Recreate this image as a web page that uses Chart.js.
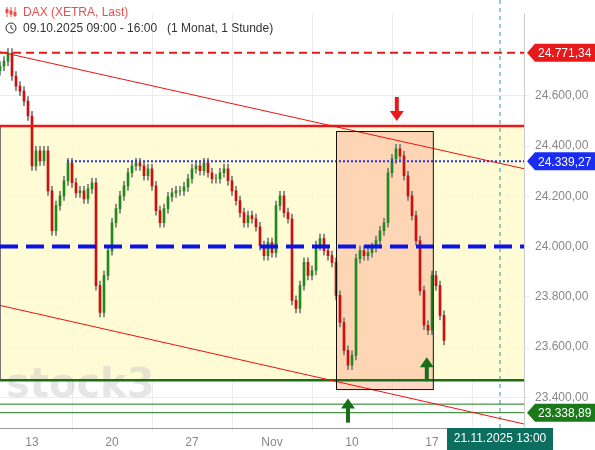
<!DOCTYPE html>
<html>
<head>
<meta charset="utf-8">
<script src="https://cdn.jsdelivr.net/npm/chart.js@4.4.0/dist/chart.umd.min.js"></script>
<style>
  html, body { margin: 0; padding: 0; background: #fff; }
  #wrap { position: relative; width: 595px; height: 450px; }
</style>
</head>
<body>
<div id="wrap"><canvas id="daxChart" width="595" height="450"></canvas></div>
<script>
// 2-hour candles, 4 per trading day, starting 09.10.2025
const closes = [
  24718, 24738, 24770, 24679, 24639, 24619, 24579, 24520, 24321, 24381, 24341, 24381,
  24222, 24063, 24163, 24202, 24262, 24333, 24254, 24214, 24222, 24190, 24230, 24254,
  23845, 23738, 23885, 23984, 24095, 24151, 24202, 24242, 24294, 24321, 24333, 24321,
  24282, 24310, 24242, 24143, 24095, 24151, 24198, 24214, 24222, 24222, 24238, 24270,
  24310, 24321, 24302, 24333, 24294, 24270, 24270, 24294, 24310, 24262, 24222, 24183,
  24135, 24095, 24123, 24111, 24079, 24004, 23964, 24016, 23976, 24163, 24202, 24135,
  24111, 23786, 23754, 23845, 23937, 23885, 23905, 24004, 24032, 23984, 23964, 23937,
  23806, 23698, 23587, 23528, 23567, 23952, 23984, 23964, 23976, 23996, 24024, 24063,
  24095, 24294, 24349, 24389, 24361, 24282, 24202, 24123, 24024, 23825, 23687, 23667,
  23885, 23845, 23726, 23627
];
const firstOpen = 24700;
const wick = 18;

const dateTicks = [8, 28, 48, 68, 88, 108];
const dateLabels = ['13', '20', '27', 'Nov', '10', '17'];
const priceTicks = [23400, 23600, 23800, 24000, 24200, 24400, 24600];

const levelHigh = 24771.34;
const levelDotted = 24339.27;
const levelLast = 23338.89;
const zoneTop = 24480;
const zoneBottom = 23468;
const midLine = 24000;
const lowLine = 23373;
const channelUpper = [[0, 24775], [131, 24310]];
const channelLower = [[0, 23766], [131, 23294]];
const boxRange = { x0: 84, x1: 108.2, top: 24460, bottom: 23433 };
const forecastIdx = 125;

const bodies = [], wicks = [], bodyColors = [];
closes.forEach((c, i) => {
  const o = i === 0 ? firstOpen : closes[i - 1];
  bodies.push({ x: i, y: [o, c] });
  wicks.push({ x: i, y: [Math.min(o, c) - wick, Math.max(o, c) + wick] });
  bodyColors.push(c >= o ? '#1f8a1f' : '#cc1010');
});

const fmt = v => v.toLocaleString('de-DE', { minimumFractionDigits: 2, maximumFractionDigits: 2 });

const overlay = {
  id: 'overlay',
  beforeDatasetsDraw(chart) {
    const { ctx, chartArea: a, scales: { x, y } } = chart;
    ctx.save();
    // yellow zone
    ctx.fillStyle = 'rgba(255,250,205,0.85)';
    ctx.fillRect(a.left, y.getPixelForValue(zoneTop), a.right - a.left, y.getPixelForValue(zoneBottom) - y.getPixelForValue(zoneTop));
    ctx.strokeStyle = '#777';
    ctx.lineWidth = 1;
    ctx.beginPath();
    ctx.moveTo(a.left + 0.5, y.getPixelForValue(zoneTop));
    ctx.lineTo(a.left + 0.5, y.getPixelForValue(zoneBottom));
    ctx.stroke();
    // box
    const bx0 = x.getPixelForValue(boxRange.x0), bx1 = x.getPixelForValue(boxRange.x1);
    const by0 = y.getPixelForValue(boxRange.top), by1 = y.getPixelForValue(boxRange.bottom);
    ctx.fillStyle = 'rgba(255,190,160,0.6)';
    ctx.fillRect(bx0, by0, bx1 - bx0, by1 - by0);
    // watermark
    ctx.fillStyle = 'rgba(200,200,200,0.45)';
    ctx.font = 'bold 40px "DejaVu Sans"';
    ctx.fillText('stock3', 6, 397);
    ctx.restore();
  },
  afterDatasetsDraw(chart) {
    const { ctx, chartArea: a, scales: { x, y } } = chart;
    const hline = (v, color, w, dash, x0) => {
      const py = y.getPixelForValue(v);
      ctx.strokeStyle = color; ctx.lineWidth = w; ctx.setLineDash(dash);
      ctx.beginPath(); ctx.moveTo(x0 === undefined ? a.left : x0, py); ctx.lineTo(a.right, py); ctx.stroke();
    };
    ctx.save();
    ctx.beginPath(); ctx.rect(a.left, 0, a.right - a.left, a.bottom); ctx.clip();
    hline(levelHigh, '#e8191a', 2, [8, 5]);
    hline(zoneTop, '#e8191a', 2.5, []);
    hline(levelDotted, '#2233ee', 2, [2, 2], x.getPixelForValue(16.75));
    hline(midLine, '#0a14e6', 4, [18, 8]);
    hline(zoneBottom, '#1a6e1a', 2.5, []);
    hline(lowLine, '#1a7a1a', 1, []);
    hline(levelLast, '#1a7a1a', 1, []);
    ctx.setLineDash([]);
    ctx.strokeStyle = '#f01010'; ctx.lineWidth = 1;
    [channelUpper, channelLower].forEach(c => {
      ctx.beginPath();
      ctx.moveTo(x.getPixelForValue(c[0][0]), y.getPixelForValue(c[0][1]));
      ctx.lineTo(x.getPixelForValue(c[1][0]), y.getPixelForValue(c[1][1]));
      ctx.stroke();
    });
    // box outline
    const bx0 = x.getPixelForValue(boxRange.x0), bx1 = x.getPixelForValue(boxRange.x1);
    const by0 = y.getPixelForValue(boxRange.top), by1 = y.getPixelForValue(boxRange.bottom);
    ctx.strokeStyle = '#111'; ctx.lineWidth = 1;
    ctx.strokeRect(bx0 + 0.5, by0 + 0.5, bx1 - bx0, by1 - by0);
    // forecast line
    const fx = x.getPixelForValue(forecastIdx);
    ctx.strokeStyle = '#2a9d8f'; ctx.setLineDash([4, 4]);
    ctx.beginPath(); ctx.moveTo(fx, 0); ctx.lineTo(fx, chart.height); ctx.stroke();
    ctx.setLineDash([]);
    // arrows
    const arrow = (idx, v, dir, color) => {
      const px = x.getPixelForValue(idx), py = y.getPixelForValue(v);
      ctx.fillStyle = color;
      ctx.fillRect(px - 2, dir > 0 ? py - 24 : py + 8, 4, 16);
      ctx.beginPath();
      if (dir > 0) { ctx.moveTo(px - 7, py - 10); ctx.lineTo(px + 7, py - 10); ctx.lineTo(px, py); }
      else { ctx.moveTo(px - 7, py + 10); ctx.lineTo(px + 7, py + 10); ctx.lineTo(px, py); }
      ctx.fill();
    };
    arrow(99.2, 24500, 1, '#e8191a');
    arrow(106.7, 23560, -1, '#1a6e1a');
    arrow(87, 23395, -1, '#1a6e1a');
    ctx.restore();

    // price tags on axis
    const tag = (v, bg) => {
      const py = y.getPixelForValue(v), x0 = a.right + 3;
      ctx.fillStyle = bg;
      ctx.beginPath();
      ctx.moveTo(x0, py); ctx.lineTo(x0 + 8, py - 9); ctx.lineTo(595, py - 9);
      ctx.lineTo(595, py + 9); ctx.lineTo(x0 + 8, py + 9); ctx.closePath(); ctx.fill();
      ctx.fillStyle = '#fff'; ctx.font = '12px "Liberation Sans"'; ctx.textBaseline = 'middle';
      ctx.fillText(fmt(v), x0 + 11, py + 1);
    };
    ctx.save();
    tag(levelHigh, '#e8191a');
    tag(levelDotted, '#1a2cf0');
    tag(levelLast, '#1a7a1a');
    // date tag
    const fx2 = x.getPixelForValue(forecastIdx);
    ctx.fillStyle = '#0b6e5e';
    ctx.fillRect(fx2 - 53, a.bottom, 106, 22);
    ctx.fillStyle = '#fff'; ctx.font = '12px "Liberation Sans"'; ctx.textAlign = 'center'; ctx.textBaseline = 'middle';
    ctx.fillText('21.11.2025 13:00', fx2, a.bottom + 11);
    // title
    ctx.textAlign = 'left'; ctx.textBaseline = 'alphabetic';
    ctx.fillStyle = '#e85050'; ctx.font = '12px "Liberation Sans"';
    ctx.fillText('DAX (XETRA, Last)', 23, 16);
    ctx.strokeStyle = '#e85050'; ctx.lineWidth = 1;
    [7, 11, 15].forEach((ix, k) => {
      ctx.beginPath(); ctx.moveTo(ix, 7); ctx.lineTo(ix, 17); ctx.stroke();
      ctx.fillStyle = '#e85050'; ctx.fillRect(ix - 1.5, 9 + k * 1.5, 3, 4);
    });
    ctx.fillStyle = '#333';
    ctx.fillText('09.10.2025 09:00 - 16:00   (1 Monat, 1 Stunde)', 23, 32);
    ctx.strokeStyle = '#333';
    ctx.beginPath(); ctx.arc(11, 28, 5, 0, Math.PI * 2); ctx.stroke();
    ctx.beginPath(); ctx.moveTo(11, 25); ctx.lineTo(11, 28); ctx.lineTo(13.5, 30); ctx.stroke();
    ctx.restore();
  }
};

new Chart(document.getElementById('daxChart'), {
  type: 'bar',
  data: {
    datasets: [
      { data: wicks, backgroundColor: '#777', barThickness: 1, grouped: false, order: 2 },
      { data: bodies, backgroundColor: bodyColors, barThickness: 2, grouped: false, order: 1 }
    ]
  },
  options: {
    responsive: false,
    animation: false,
    layout: { padding: 0 },
    plugins: { legend: { display: false }, tooltip: { enabled: false } },
    scales: {
      x: {
        type: 'linear', min: 0, max: 131, offset: false,
        afterFit: s => { s.height = 22; },
        afterBuildTicks: s => { s.ticks = dateTicks.map(v => ({ value: v })); },
        ticks: { autoSkip: false, maxRotation: 0, color: '#888', font: { family: 'Liberation Sans', size: 12 },
          callback: v => dateLabels[dateTicks.indexOf(v)] },
        grid: { color: '#ececec', drawTicks: true, tickLength: 4 },
        border: { color: '#999' }
      },
      y: {
        position: 'right', min: 23278, max: 24929,
        afterFit: s => { s.width = 71; },
        afterBuildTicks: s => { s.ticks = priceTicks.map(v => ({ value: v })); },
        ticks: { color: '#888', padding: 6, font: { family: 'Liberation Sans', size: 12 }, callback: v => fmt(v) },
        grid: { color: '#ececec', tickLength: 5 },
        border: { color: '#ccc' }
      }
    }
  },
  plugins: [overlay]
});
</script>
</body>
</html>
